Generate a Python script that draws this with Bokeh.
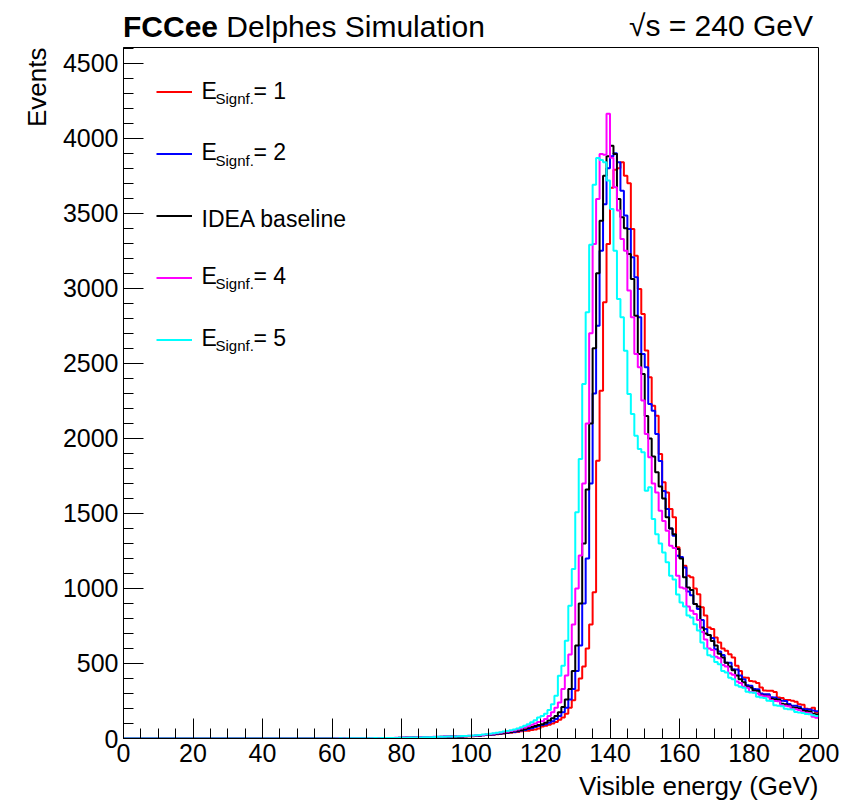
import math
import numpy as np
from bokeh.plotting import figure
from bokeh.models import (Range1d, SingleIntervalTicker, Label, Legend, LegendItem,
                          Title, Div)
from bokeh.layouts import column
from bokeh.embed import file_html
from bokeh.resources import INLINE

# ---------------- data (1 GeV bins, 0-200 GeV) ----------------
bin_lo, bin_hi = 0, 200
y_top = 4605

empty_bins = [0] * 60   # 0-59 GeV: no entries

# 60-99 GeV
red_a = [0, 0, 0, 1, 0, 1, 1, 1, 1, 2, 1, 2, 2, 2, 3, 2, 3, 3, 3, 4,
         4, 4, 5, 5, 6, 6, 7, 7, 8, 8, 9, 9, 10, 11, 11, 12, 13, 13, 14, 15]
blue_a = [0, 0, 1, 0, 1, 1, 1, 1, 2, 1, 2, 2, 3, 2, 3, 3, 3, 4, 4, 4,
          5, 5, 5, 6, 6, 7, 8, 8, 9, 9, 10, 10, 11, 12, 12, 13, 14, 14, 15, 16]
black_a = [0, 0, 1, 0, 1, 1, 1, 2, 1, 2, 2, 2, 3, 3, 3, 3, 4, 4, 4, 5,
           5, 6, 6, 6, 7, 7, 8, 9, 9, 10, 10, 11, 12, 12, 13, 14, 14, 15, 16, 17]
magenta_a = [0, 1, 0, 1, 1, 1, 1, 2, 2, 2, 2, 3, 3, 3, 3, 4, 4, 4, 5, 5,
             6, 6, 7, 7, 8, 8, 9, 9, 10, 11, 11, 12, 13, 13, 14, 15, 16, 16, 17, 18]
cyan_a = [0, 0, 1, 0, 1, 1, 1, 2, 1, 2, 2, 2, 3, 2, 3, 3, 4, 3, 4, 5,
          5, 5, 6, 6, 7, 7, 8, 9, 9, 10, 11, 11, 12, 13, 14, 14, 15, 16, 17, 19]

# 100-119 GeV
red_b = [15, 17, 18, 21, 23, 24, 27, 29, 31, 34, 36, 38, 42, 44, 48, 51, 52, 56, 60, 66]
blue_b = [16, 18, 20, 21, 24, 26, 27, 30, 33, 35, 38, 42, 44, 49, 53, 57, 63, 69, 76, 84]
black_b = [17, 19, 20, 23, 25, 27, 29, 32, 34, 37, 40, 43, 48, 52, 57, 62, 70, 76, 84, 90]
magenta_b = [18, 20, 22, 24, 26, 29, 31, 35, 38, 41, 45, 50, 54, 60, 66, 74, 81, 92, 100, 110]
cyan_b = [20, 22, 24, 27, 29, 32, 35, 38, 42, 46, 50, 55, 60, 66, 75, 85, 95, 108, 122, 140]

# 120-199 GeV
red_c = [80, 85, 92, 100, 110, 125, 140, 165, 205, 255,
         320, 400, 480, 600, 760, 974, 1851, 2318, 2907, 3295,
         3670, 3790, 3800, 3840, 3750, 3700, 3396, 3218, 2996, 2829,
         2585, 2407, 2218, 2151, 1896, 1707, 1640, 1529, 1474, 1274,
         1207, 1151, 1085, 1074, 1000, 962, 874, 820, 740, 730,
         673, 640, 600, 585, 562, 540, 485, 450, 407, 405,
         384, 380, 370, 340, 320, 318, 318, 310, 273, 270,
         256, 256, 252, 245, 229, 225, 198, 195, 205, 173]
blue_c = [90, 95, 105, 115, 130, 150, 175, 205, 260, 330,
          450, 620, 900, 1200, 1700, 2300, 2750, 3250, 3560, 3800,
          3880, 3900, 3840, 3651, 3485, 3396, 3207, 3074, 2807, 2563,
          2474, 2229, 2185, 2029, 1850, 1650, 1529, 1400, 1351, 1218,
          1210, 1140, 980, 955, 896, 863, 790, 730, 690, 670,
          595, 580, 556, 505, 505, 462, 460, 420, 395, 355,
          351, 330, 329, 300, 295, 295, 275, 273, 262, 251,
          250, 230, 218, 218, 212, 197, 195, 193, 186, 182]
black_c = [95, 105, 120, 135, 150, 175, 210, 260, 330, 450,
           620, 900, 1300, 1660, 2100, 2600, 3100, 3450, 3750, 3880,
           3951, 3896, 3596, 3474, 3400, 3229, 3063, 2818, 2563, 2429,
           2150, 2000, 1880, 1774, 1680, 1600, 1474, 1400, 1362, 1263,
           1200, 1074, 1007, 990, 896, 880, 740, 700, 690, 650,
           620, 565, 540, 505, 480, 455, 420, 395, 375, 345,
           340, 320, 318, 290, 285, 282, 265, 262, 258, 232,
           229, 220, 207, 205, 200, 186, 184, 180, 165, 160]
magenta_c = [115, 130, 150, 175, 205, 240, 330, 420, 560, 760,
             1000, 1220, 1700, 2100, 2700, 3295, 3595, 3895, 3890, 4163,
             3870, 3674, 3518, 3329, 3251, 2985, 2807, 2563, 2474, 2252,
             2029, 1874, 1700, 1640, 1518, 1450, 1385, 1285, 1270, 1085,
             1007, 1000, 880, 851, 830, 790, 710, 660, 600, 590,
             545, 535, 490, 480, 435, 425, 380, 370, 345, 338,
             310, 307, 300, 286, 282, 280, 255, 250, 248, 222,
             218, 215, 198, 195, 190, 175, 172, 168, 145, 138]
cyan_c = [150, 165, 190, 229, 285, 418, 485, 651, 885, 1129,
          1507, 1863, 2362, 2840, 3291, 3691, 3869, 3855, 3840, 3718,
          3529, 3251, 2929, 2807, 2584, 2296, 2163, 2018, 1930, 1907,
          1651, 1674, 1463, 1362, 1300, 1240, 1174, 1085, 1060, 960,
          907, 880, 820, 807, 762, 720, 640, 600, 555, 545,
          510, 495, 450, 440, 405, 395, 355, 345, 338, 312,
          307, 305, 278, 273, 270, 252, 250, 222, 218, 215,
          198, 195, 193, 176, 173, 170, 163, 162, 155, 150]

red = empty_bins + red_a + red_b + red_c
blue = empty_bins + blue_a + blue_b + blue_c
black = empty_bins + black_a + black_b + black_c
magenta = empty_bins + magenta_a + magenta_b + magenta_c
cyan = empty_bins + cyan_a + cyan_b + cyan_c

series_colors = ["#ff0000", "#0000ff", "#000000", "#ff00ff", "#00ffff"]
series_values = [red, blue, black, magenta, cyan]
series_sig = ["1", "2", None, "4", "5"]
baseline_name = "IDEA baseline"

title_bold = "FCCee"
title_rest = "Delphes Simulation"
energy_text = "\u221as = 240 GeV"
x_title = "Visible energy (GeV)"
y_title = "Events"

# ---------------- layout ----------------
FONT = "Liberation Sans"
PAGE_W = 843
HEAD_H = 44
W, H = PAGE_W, 804 - HEAD_H
FL, FR, FT, FB = 123, 25, 3, 66      # frame 123..818 x 47..738 on the page

header = Div(
    text=(
        f'<div style="position:relative;width:{PAGE_W}px;height:{HEAD_H}px;'
        f'font-family:\'{FONT}\';color:#000;">'
        f'<span style="position:absolute;left:123px;top:12px;font-size:30px;'
        f'line-height:30px;white-space:nowrap;"><b>{title_bold}</b>&nbsp;{title_rest}</span>'
        f'<span style="position:absolute;right:30px;top:11px;font-size:30px;'
        f'line-height:30px;white-space:nowrap;">{energy_text}</span></div>'
    ),
    width=PAGE_W, height=HEAD_H, margin=(0, 0, 0, 0))

p = figure(width=W, height=H, output_backend="svg", toolbar_location=None,
           x_range=Range1d(bin_lo, bin_hi), y_range=Range1d(0, y_top),
           min_border_left=FL, min_border_right=FR,
           min_border_top=FT, min_border_bottom=FB, margin=(0, 0, 0, 0))
p.background_fill_color = "white"
p.border_fill_color = "white"
p.outline_line_color = "black"
p.outline_line_width = 1
p.xgrid.visible = False
p.ygrid.visible = False

p.xaxis.ticker = SingleIntervalTicker(interval=20, num_minor_ticks=4)
p.yaxis.ticker = SingleIntervalTicker(interval=500, num_minor_ticks=5)
for ax in (p.xaxis, p.yaxis):
    ax.major_tick_in = 20
    ax.major_tick_out = 0
    ax.minor_tick_in = 10
    ax.minor_tick_out = 0
    ax.axis_line_color = "black"
    ax.major_tick_line_color = "black"
    ax.minor_tick_line_color = "black"
    ax.major_label_text_font = FONT
    ax.major_label_text_font_size = "25px"
    ax.major_label_text_color = "black"
p.xaxis.major_label_standoff = 5
p.yaxis.major_label_standoff = 5

# axis titles as side-panel titles (ROOT style: aligned to the far end)
p.add_layout(Title(text=y_title, align="right", vertical_align="bottom",
                   text_font=FONT, text_font_size="26px", text_font_style="normal",
                   text_color="black", standoff=16, offset=0), "left")
p.add_layout(Title(text=x_title, align="right", vertical_align="bottom",
                   text_font=FONT, text_font_size="26px", text_font_style="normal",
                   text_color="black", standoff=8, offset=0), "below")

edges = np.arange(bin_lo, bin_hi + 1, 1)
items = []
for col, vals in zip(series_colors, series_values):
    yv = list(vals) + [vals[-1]]
    r = p.step(x=edges, y=yv, mode="after", line_color=col, line_width=2)
    items.append(LegendItem(label="", renderers=[r]))

legend = Legend(items=items, location="top_left", margin=33, padding=0,
                spacing=39, glyph_width=36, glyph_height=23, label_height=23,
                label_width=0, label_standoff=0,
                border_line_alpha=0, background_fill_alpha=0)
p.add_layout(legend)

# legend texts (frame-relative screen units, y from frame bottom, centred)
FRAME_TOP, FRAME_BOT = 47, 738
def lab(x, page_y, text, size):
    p.add_layout(Label(x=x, y=FRAME_BOT - page_y, x_units="screen", y_units="screen",
                       text=text, text_font=FONT, text_font_size=size,
                       text_color="black", text_baseline="middle"))

for k, sig in enumerate(series_sig):
    line_y = 94.3 + 61.75 * k
    if sig is None:
        lab(78, line_y + 0.4, baseline_name, "23px")
    else:
        lab(78, line_y - 4.1, "E", "23px")
        lab(92, line_y + 3.6, "Signf.", "15px")
        lab(130, line_y - 4.1, "= " + sig, "23px")

layout = column(header, p, spacing=0)
open("out.html", "w").write(file_html(layout, INLINE))
